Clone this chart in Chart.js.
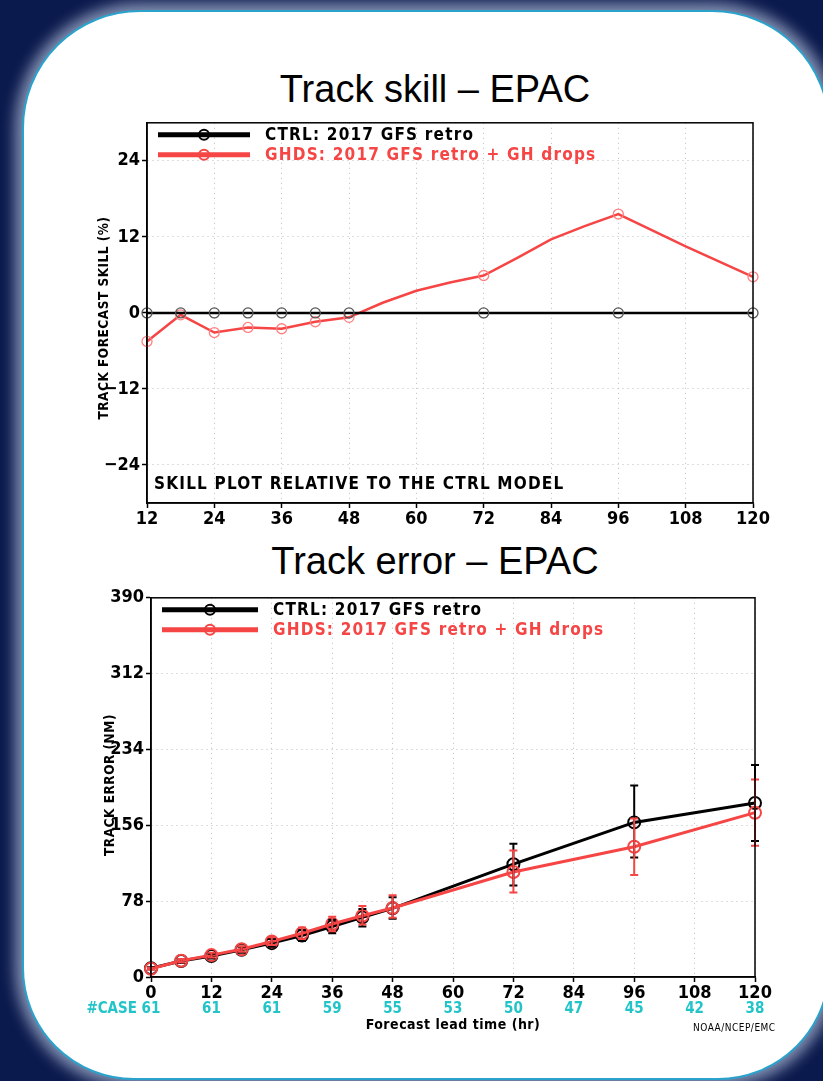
<!DOCTYPE html>
<html>
<head>
<meta charset="utf-8">
<script src="https://cdn.jsdelivr.net/npm/chart.js@4.4.1/dist/chart.umd.min.js"></script>
<style>
  html, body { margin: 0; padding: 0; }
  body { width: 823px; height: 1081px; background: #0b1a4d; position: relative; overflow: hidden; }
  .panel {
    position: absolute; left: 22px; top: 10px; width: 804px; height: 1066px;
    background: #fff; border: 2px solid #2aa3cc; border-radius: 118px 118px 112px 112px;
    box-shadow: 0 0 14px 7px rgba(150,165,195,0.85);
  }
  .title { position: absolute; left: 0; width: 870px; text-align: center; line-height: 38px;
    font-family: "Liberation Sans", Arial, sans-serif; font-size: 38px; color: #000; }
  canvas { position: absolute; }
</style>
</head>
<body>
<div class="panel"></div>
<div class="title" style="top:70px;">Track skill – EPAC</div>
<div class="title" style="top:542px;">Track error – EPAC</div>
<div style="position:absolute;left:60px;top:110px;width:720px;height:425px;"><canvas id="skillChart"></canvas></div>
<div style="position:absolute;left:60px;top:585px;width:720px;height:460px;"><canvas id="errorChart"></canvas></div>

<script>
// ---------- data: track skill (%) ----------
var skillHours = [12, 18, 24, 30, 36, 42, 48, 54, 60, 66, 72, 78, 84, 90, 96, 108, 120];
var ghdsSkill  = [-4.5, -0.3, -3.1, -2.3, -2.5, -1.4, -0.7, 1.6, 3.5, 4.8, 5.9, 8.7, 11.6, 13.7, 15.6, 10.5, 5.7];
var ctrlSkillHours = [12, 18, 24, 30, 36, 42, 48, 72, 96, 120];
var ctrlSkill  = [0, 0, 0, 0, 0, 0, 0, 0, 0, 0];
var skillMarkHours = [12, 18, 24, 30, 36, 42, 48, 72, 96, 120];
var skillXTicks = [12, 24, 36, 48, 60, 72, 84, 96, 108, 120];
var skillYTicks = [-24, -12, 0, 12, 24];

// ---------- data: track error (NM) ----------
var errHours = [0, 6, 12, 18, 24, 30, 36, 42, 48, 72, 96, 120];
var ctrlErr  = [9, 16.4, 21.5, 28, 34.8, 42.6, 52, 61.5, 70.6, 116, 159, 179];
var ctrlLo   = [8, 14.5, 19, 25, 31, 37, 45, 52, 60, 94, 123, 140];
var ctrlHi   = [10, 18.5, 24, 31, 39, 48, 59, 70, 82, 137, 197, 218];
var ghdsErr  = [8.5, 16.7, 22.5, 28.6, 36.5, 45, 54.5, 63, 71, 108, 134, 169];
var ghdsLo   = [7.5, 15, 20, 26, 33, 39, 47, 54, 61, 87, 105, 135];
var ghdsHi   = [9.5, 18.5, 25, 31.5, 41, 51, 62, 73, 84, 130, 163, 203];
var errXTicks = [0, 12, 24, 36, 48, 60, 72, 84, 96, 108, 120];
var errYTicks = [0, 78, 156, 234, 312, 390];
var caseHours  = [0, 12, 24, 36, 48, 60, 72, 84, 96, 108, 120];
var caseCounts = [61, 61, 61, 59, 55, 53, 50, 47, 45, 42, 38];

var RED = '#f64545';
var CYAN = '#22c4c8';
var FONT = '"DejaVu Sans Condensed", "DejaVu Sans", sans-serif';

function pts(xs, ys) {
  return xs.map(function (x, i) { return { x: x, y: ys[i] }; });
}

function fixedTicks(list) {
  return function (scale) { scale.ticks = list.map(function (v) { return { value: v }; }); };
}

function axisX(min, max, ticks, h) {
  return {
    type: 'linear', min: min, max: max,
    afterBuildTicks: fixedTicks(ticks),
    afterFit: function (s) { s.height = h; },
    grid: { color: '#bdbdbd', lineWidth: 1, tickColor: '#000', tickLength: 5, tickWidth: 1.5 },
    border: { display: true, color: '#000', width: 1.5, dash: [1, 4] },
    ticks: { color: '#000', font: { family: FONT, size: 18, weight: 'bold' }, padding: 1, maxRotation: 0 }
  };
}

function axisY(min, max, ticks, w) {
  return {
    type: 'linear', min: min, max: max,
    afterBuildTicks: fixedTicks(ticks),
    afterFit: function (s) { s.width = w; },
    grid: { color: '#bdbdbd', lineWidth: 1, tickColor: '#000', tickLength: 5, tickWidth: 1.5 },
    border: { display: true, color: '#000', width: 1.5, dash: [1, 4] },
    ticks: {
      color: '#000', font: { family: FONT, size: 18, weight: 'bold' }, padding: 2,
      callback: function (v) { return v < 0 ? '\u2212' + Math.abs(v) : String(v); }
    }
  };
}

// frame, legend and rotated y title, shared by both charts
var framePlugin = {
  id: 'frame',
  afterDraw: function (chart) {
    var a = chart.chartArea, ctx = chart.ctx, o = chart.options.plugins.frame;
    ctx.save();
    ctx.strokeStyle = '#000'; ctx.lineWidth = 1.5;
    ctx.strokeRect(a.left, a.top, a.right - a.left, a.bottom - a.top);

    o.legend.forEach(function (item, i) {
      var y = a.top + 12 + i * 20;
      ctx.strokeStyle = item.color; ctx.lineWidth = 5;
      ctx.beginPath(); ctx.moveTo(a.left + 11, y); ctx.lineTo(a.left + o.legendLen, y); ctx.stroke();
      ctx.lineWidth = 2;
      ctx.beginPath(); ctx.arc(a.left + 11 + (o.legendLen - 11) / 2, y, 5, 0, Math.PI * 2); ctx.stroke();
      ctx.fillStyle = item.color;
      ctx.font = 'bold 17px ' + FONT;
      ctx.letterSpacing = '1.2px';
      ctx.textBaseline = 'middle'; ctx.textAlign = 'left';
      ctx.fillText(item.text, a.left + o.legendLen + 15, y + 1);
    });
    ctx.letterSpacing = '0.5px';

    ctx.fillStyle = '#000';
    ctx.font = 'bold 13.5px ' + FONT;
    ctx.translate(o.yTitleX, o.yTitleY);
    ctx.rotate(-Math.PI / 2);
    ctx.textAlign = 'center'; ctx.textBaseline = 'middle';
    ctx.fillText(o.yTitle, 0, 0);
    ctx.restore();
  }
};

var skillNotePlugin = {
  id: 'skillNote',
  afterDraw: function (chart) {
    var a = chart.chartArea, ctx = chart.ctx;
    ctx.save();
    ctx.fillStyle = '#000'; ctx.font = 'bold 17px ' + FONT; ctx.letterSpacing = '1.2px';
    ctx.textAlign = 'left'; ctx.textBaseline = 'middle';
    ctx.fillText('SKILL PLOT RELATIVE TO THE CTRL MODEL', a.left + 7, a.bottom - 18);
    ctx.restore();
  }
};

var caseRowPlugin = {
  id: 'caseRow',
  afterDraw: function (chart) {
    var a = chart.chartArea, ctx = chart.ctx, xs = chart.scales.x;
    ctx.save();
    ctx.textBaseline = 'middle';
    ctx.fillStyle = CYAN; ctx.font = 'bold 15px ' + FONT;
    ctx.textAlign = 'center';
    caseHours.forEach(function (h, i) {
      ctx.fillText(String(caseCounts[i]), xs.getPixelForValue(h), a.bottom + 32);
    });
    ctx.textAlign = 'right';
    ctx.fillText('#CASE', a.left - 14, a.bottom + 32);
    ctx.fillStyle = '#000'; ctx.textAlign = 'center';
    ctx.font = 'bold 14px ' + FONT; ctx.letterSpacing = '0.5px';
    ctx.fillText('Forecast lead time (hr)', (a.left + a.right) / 2, a.bottom + 48);
    ctx.font = '10px ' + FONT; ctx.textAlign = 'left';
    ctx.fillText('NOAA/NCEP/EMC', a.right - 62, a.bottom + 51);
    ctx.restore();
  }
};

var errorBarPlugin = {
  id: 'errbars',
  afterDatasetsDraw: function (chart) {
    var ctx = chart.ctx, xs = chart.scales.x, ys = chart.scales.y;
    ctx.save();
    for (var d = chart.data.datasets.length - 1; d >= 0; d--) {
      var ds = chart.data.datasets[d];
      if (!ds.errLo) continue;
      ctx.strokeStyle = ds.borderColor; ctx.lineWidth = 2;
      errHours.forEach(function (h, i) {
        var x = xs.getPixelForValue(h);
        var y1 = ys.getPixelForValue(ds.errLo[i]);
        var y2 = ys.getPixelForValue(ds.errHi[i]);
        ctx.beginPath();
        ctx.moveTo(x, y1); ctx.lineTo(x, y2);
        ctx.moveTo(x - 4, y1); ctx.lineTo(x + 4, y1);
        ctx.moveTo(x - 4, y2); ctx.lineTo(x + 4, y2);
        ctx.stroke();
      });
    }
    ctx.restore();
  }
};

Chart.register(framePlugin);

// ---------- skill chart ----------
new Chart(document.getElementById('skillChart'), {
  type: 'line',
  data: {
    datasets: [
      {
        label: 'CTRL', data: pts(ctrlSkillHours, ctrlSkill), clip: false,
        borderColor: '#000', borderWidth: 2.5,
        pointRadius: 5, pointBorderWidth: 1.3, pointBorderColor: '#555', pointBackgroundColor: 'rgba(0,0,0,0)'
      },
      {
        label: 'GHDS', data: pts(skillHours, ghdsSkill), clip: false,
        borderColor: RED, borderWidth: 2.5,
        pointRadius: function (c) { return skillMarkHours.indexOf(c.raw.x) >= 0 ? 5 : 0; },
        pointBorderWidth: 1.3, pointBorderColor: '#ff8080', pointBackgroundColor: 'rgba(0,0,0,0)'
      }
    ]
  },
  plugins: [skillNotePlugin],
  options: {
    responsive: true, maintainAspectRatio: false, animation: false,
    layout: { padding: { left: 0, top: 11, right: 27, bottom: 0 } },
    scales: { x: axisX(12, 120, skillXTicks, 32), y: axisY(-30, 30, skillYTicks, 87) },
    plugins: {
      legend: { display: false }, tooltip: { enabled: false },
      frame: {
        legendLen: 103,
        legend: [{ text: 'CTRL: 2017 GFS retro', color: '#000' }, { text: 'GHDS: 2017 GFS retro + GH drops', color: RED }],
        yTitle: 'TRACK FORECAST SKILL (%)', yTitleX: 44, yTitleY: 208
      }
    }
  }
});

// ---------- error chart ----------
new Chart(document.getElementById('errorChart'), {
  type: 'line',
  data: {
    datasets: [
      {
        label: 'GHDS', data: pts(errHours, ghdsErr), errLo: ghdsLo, errHi: ghdsHi, clip: false,
        borderColor: RED, borderWidth: 3,
        pointRadius: 6, pointBorderWidth: 2, pointBorderColor: RED, pointBackgroundColor: 'rgba(0,0,0,0)'
      },
      {
        label: 'CTRL', data: pts(errHours, ctrlErr), errLo: ctrlLo, errHi: ctrlHi, clip: false,
        borderColor: '#000', borderWidth: 3,
        pointRadius: 6, pointBorderWidth: 2, pointBorderColor: '#000', pointBackgroundColor: 'rgba(0,0,0,0)'
      }
    ]
  },
  plugins: [errorBarPlugin, caseRowPlugin],
  options: {
    responsive: true, maintainAspectRatio: false, animation: false,
    layout: { padding: { left: 0, top: 11, right: 25, bottom: 0 } },
    scales: { x: axisX(0, 120, errXTicks, 68), y: axisY(0, 390, errYTicks, 91) },
    plugins: {
      legend: { display: false }, tooltip: { enabled: false },
      frame: {
        legendLen: 107,
        legend: [{ text: 'CTRL: 2017 GFS retro', color: '#000' }, { text: 'GHDS: 2017 GFS retro + GH drops', color: RED }],
        yTitle: 'TRACK ERROR (NM)', yTitleX: 50, yTitleY: 200
      }
    }
  }
});
</script>
</body>
</html>
